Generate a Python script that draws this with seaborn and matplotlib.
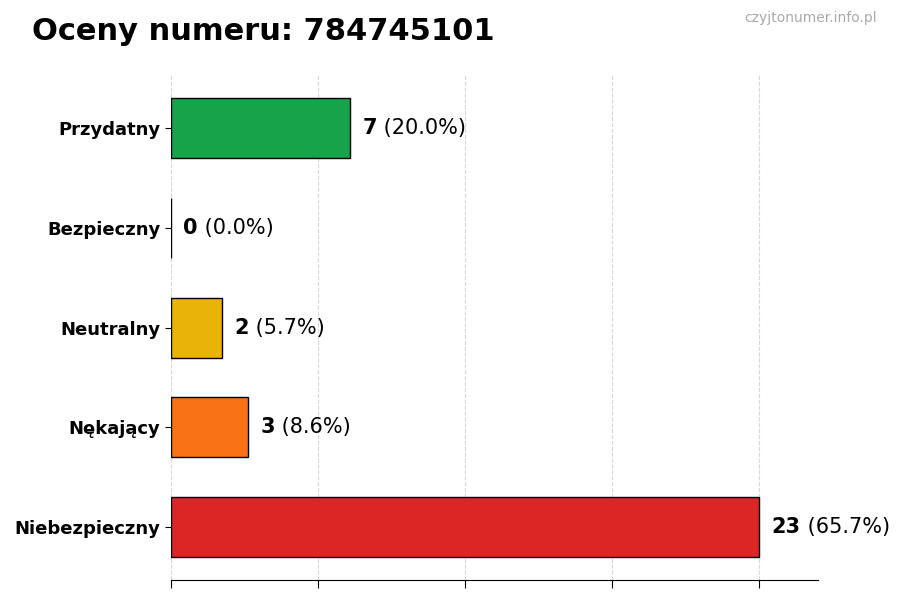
import matplotlib
matplotlib.use("Agg")
import matplotlib.pyplot as plt
import seaborn as sns
import numpy as np
import pandas as pd

# data
categories = ["Przydatny", "Bezpieczny", "Neutralny", "Nękający", "Niebezpieczny"]
counts = [7, 0, 2, 3, 23]
colors = ["#16a34a", "#2563eb", "#eab308", "#f97316", "#dc2626"]
number = "784745101"

total = sum(counts)
df = pd.DataFrame({"kategoria": categories, "liczba": counts})

sns.set_style("ticks")
plt.rcParams["font.family"] = ["DejaVu Sans"]
plt.rcParams["text.color"] = "black"
plt.rcParams["axes.labelcolor"] = "black"
plt.rcParams["xtick.color"] = "black"
plt.rcParams["ytick.color"] = "black"

fig = plt.figure(figsize=(9, 6), dpi=100)
ax = fig.add_axes([0.19, 0.033, 0.719, 0.842])

sns.barplot(data=df, x="liczba", y="kategoria", hue="kategoria",
            palette=colors, saturation=1, orient="h", width=0.6,
            edgecolor="black", linewidth=1, legend=False, ax=ax)

n = len(categories)
ax.set_ylim(n - 1 + 0.53, -0.53)
mx = max(counts)
ax.set_xlim(0, mx * 1.1)
ax.set_xticks(np.linspace(0, mx, 5))
ax.set_xticklabels([])
ax.grid(axis="x", linestyle="--", color="#cccccc", alpha=0.8)
ax.set_axisbelow(True)
ax.set_xlabel("")
ax.set_ylabel("")
for s in ["top", "right", "left"]:
    ax.spines[s].set_visible(False)
ax.spines["bottom"].set_color("black")
ax.tick_params(axis="x", length=6, direction="out")
ax.tick_params(axis="y", length=4, labelsize=13)
for lab in ax.get_yticklabels():
    lab.set_fontweight("bold")

for i, c in enumerate(counts):
    pct = c / total * 100
    t = ax.annotate(str(c), xy=(c, i), xytext=(9, 0), textcoords="offset points",
                    va="center", ha="left", fontsize=15, fontweight="bold")
    ax.annotate(f" ({pct:.1f}%)", xy=(1, 0), xycoords=t, va="bottom", ha="left",
                fontsize=15)

fig.text(0.036, 0.948, f"Oceny numeru: {number}", fontsize=22, fontweight="bold",
         ha="left", va="center")
fig.text(0.974, 0.97, "czyjtonumer.info.pl", fontsize=10, color="#aaaaaa",
         ha="right", va="center")

fig.savefig("out.png", dpi=100)
